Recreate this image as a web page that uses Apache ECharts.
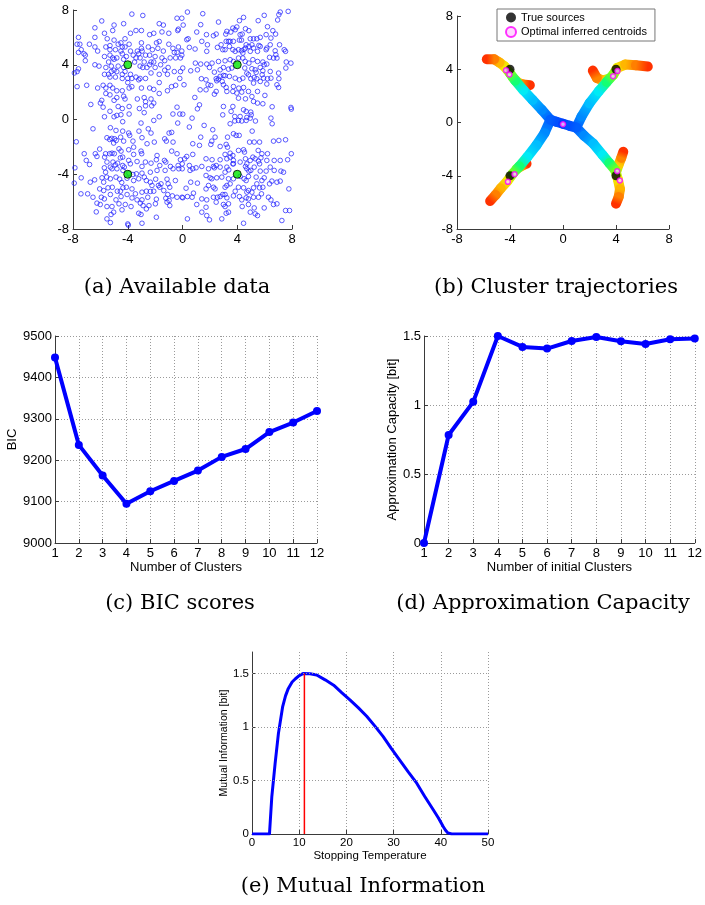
<!DOCTYPE html>
<html>
<head>
<meta charset="utf-8">
<script src="https://cdn.jsdelivr.net/npm/echarts@6/dist/echarts.min.js"></script>
<style>
html,body{margin:0;padding:0;background:#fff}
#chart{width:705px;height:905px}
</style>
</head>
<body>
<div id="chart"></div>
<script>
// ---------- (a) available data: 2-D samples ----------
const samplesUpperLeft = [[-3.7,7.7],[-2.9,7.6],[-5.9,7.2],[-0.4,7.4],[-0.05,7.4],[-5.0,6.9],[-4.3,7.0],[-1.7,7.0],[-1.4,6.9],[-7.6,6.0],[-6.4,6.7],[-5.7,6.3],[-5.1,6.5],[-3.4,6.5],[-3.0,6.5],[-3.8,6.3],[-2.1,6.3],[-2.4,6.2],[-1.5,6.4],[-1.0,6.3],[-0.3,6.6],[-0.35,6.5],[-5.5,5.9],[-5.0,5.8],[-4.2,5.9],[-4.5,5.6],[-6.4,6.0],[-7.7,5.5],[-7.5,5.5],[-6.8,5.5],[-6.4,5.3],[-5.6,5.3],[-5.3,5.4],[-4.7,5.5],[-4.4,5.3],[-4.2,5.3],[-4.9,5.1],[-5.3,5.1],[-3.9,5.5],[-3.0,5.6],[-1.9,5.6],[-1.7,5.7],[-1.0,5.5],[-2.2,5.1],[-2.5,5.3],[-1.8,5.2],[-1.4,5.0],[-0.7,5.2],[-0.3,5.3],[-0.05,5.0],[-0.6,4.9],[-0.4,4.9],[-7.4,5.1],[-7.2,4.8],[-7.1,4.7],[-7.1,4.3],[-6.2,5.0],[-7.6,4.9],[-4.5,5.0],[-4.4,4.8],[-3.8,5.0],[-3.3,5.0],[-3.2,4.8],[-3.0,5.2],[-2.95,5.0],[-3.6,4.7],[-2.7,4.7],[-2.4,4.7],[-2.0,4.6],[-4.1,4.6],[-4.8,4.5],[-5.0,4.4],[-5.1,4.5],[-5.4,4.2],[-5.7,4.6],[-5.3,4.7],[-4.3,4.4],[-3.4,4.5],[-3.1,4.5],[-3.5,4.2],[-2.8,4.2],[-2.3,4.2],[-2.1,4.2],[-1.5,4.5],[-1.3,4.3],[-0.9,4.5],[-0.5,4.5],[-0.15,4.5],[-0.05,4.7],[-6.4,4.0],[-6.1,3.9],[-5.6,3.8],[-5.2,3.9],[-5.0,3.6],[-4.7,3.9],[-4.3,3.8],[-3.1,3.9],[-2.9,3.8],[-2.6,3.8],[-2.4,4.0],[-2.0,3.8],[-1.6,4.0],[-1.3,3.6],[-1.05,3.8],[-7.9,3.4],[-7.6,3.7],[-7.7,3.5],[-5.7,3.3],[-5.4,3.3],[-5.2,3.5],[-4.8,3.5],[-4.4,3.3],[-4.2,3.5],[-3.8,3.3],[-3.7,3.0],[-3.4,3.1],[-2.7,3.0],[-2.3,3.4],[-1.7,3.3],[-1.1,3.3],[-0.6,3.5],[-0.15,3.5],[-5.3,3.1],[-4.9,3.1],[-4.4,3.0],[-4.0,3.0],[-3.2,2.9],[-3.1,3.0],[-7.7,2.4],[-7.0,2.5],[-6.2,2.3],[-5.8,2.5],[-5.6,2.3],[-5.3,2.5],[-5.1,2.3],[-4.8,2.1],[-4.4,2.1],[-4.0,2.7],[-3.9,2.3],[-3.7,2.4],[-3.0,2.3],[-2.4,2.3],[-2.1,2.2],[-1.7,2.7],[-1.1,2.1],[-0.8,2.4],[-0.5,2.5],[-0.2,3.0],[-5.6,1.9],[-5.3,1.8],[-4.8,1.6],[-4.3,1.7],[-4.2,1.5],[-3.3,1.5],[-2.8,1.6],[-2.7,1.3],[-2.3,1.5],[-2.1,1.2],[-1.7,1.9],[-5.9,1.4],[-6.0,1.2],[-6.7,1.1],[-5.8,0.9],[-5.0,1.4],[-4.7,0.95],[-4.4,0.8],[-3.9,0.95],[-3.15,0.8],[-2.7,1.0],[-2.25,1.0],[-2.8,0.5],[-0.4,0.9],[-5.7,0.2],[-5.3,0.6],[-5.0,0.2],[-4.8,0.3],[-4.5,0.35],[-3.9,0.4],[-1.7,0.2],[-0.7,0.4],[-0.2,0.4]];
const samplesUpperRight = [[0.36,7.85],[1.48,7.73],[7.14,7.85],[7.04,7.66],[7.72,7.9],[0.05,6.9],[1.33,6.93],[2.63,7.12],[4.16,7.22],[4.46,7.46],[5.53,7.22],[5.97,7.61],[6.95,7.27],[3.68,6.68],[3.85,6.56],[3.97,6.76],[4.6,6.63],[4.85,6.49],[6.21,6.78],[6.6,6.49],[1.04,6.39],[1.75,6.2],[2.26,6.12],[2.46,6.24],[3.16,6.24],[3.24,6.44],[3.53,6.39],[4.21,6.2],[4.36,6.24],[4.95,5.9],[5.19,5.9],[5.43,5.9],[5.68,6.0],[6.11,6.2],[6.46,5.95],[6.8,6.24],[0.41,5.9],[0.31,5.83],[1.41,5.71],[1.82,5.46],[2.82,5.46],[3.19,5.71],[3.36,5.71],[3.48,5.71],[3.72,5.71],[4.16,5.8],[4.31,5.8],[4.65,5.46],[4.85,5.34],[5.07,5.46],[5.19,5.22],[5.58,5.41],[5.68,5.34],[6.16,5.22],[6.41,5.46],[7.09,5.46],[7.43,5.1],[7.53,4.98],[0.5,5.27],[0.92,5.15],[1.77,4.98],[2.55,5.27],[2.94,5.1],[3.11,5.1],[3.43,5.34],[3.68,5.1],[3.85,4.98],[4.09,5.1],[4.31,5.02],[4.41,4.85],[4.5,5.12],[4.6,5.22],[4.95,4.98],[5.48,4.98],[6.11,5.1],[6.77,5.02],[6.82,4.73],[6.9,4.49],[6.36,4.54],[6.65,4.49],[0.94,4.12],[1.33,4.05],[1.77,4.05],[2.16,4.12],[2.63,4.24],[3.11,4.29],[3.48,4.37],[3.72,4.24],[4.09,4.49],[4.41,4.49],[4.58,4.24],[4.85,4.12],[5.14,4.37],[5.48,4.24],[5.87,4.2],[5.97,4.0],[6.16,4.05],[7.58,4.2],[7.92,4.12],[0.02,3.76],[0.6,3.56],[1.09,3.63],[1.97,3.8],[2.33,3.46],[2.75,3.63],[2.99,3.8],[3.36,3.68],[3.6,3.76],[4.55,3.76],[4.7,3.39],[4.82,3.27],[5.07,3.71],[5.31,3.63],[5.68,3.8],[5.87,3.56],[5.38,3.44],[5.82,3.27],[6.41,3.51],[7.02,3.39],[7.55,3.76],[1.38,2.98],[1.72,2.9],[2.46,2.98],[2.63,2.95],[2.75,3.15],[2.99,3.22],[3.11,3.2],[2.5,2.83],[2.9,2.78],[3.43,3.15],[3.85,3.02],[4.16,2.9],[4.41,3.02],[4.99,2.98],[5.24,3.07],[5.43,2.98],[5.92,3.02],[6.21,2.98],[6.46,3.02],[7.04,2.98],[1.87,2.54],[2.07,2.49],[2.99,2.54],[3.19,2.34],[3.72,2.41],[4.11,2.29],[4.46,2.34],[5.19,2.66],[5.68,2.78],[6.16,2.59],[6.9,2.54],[7.02,2.34],[0.11,2.54],[1.29,2.17],[1.72,2.17],[2.46,2.05],[2.33,1.85],[3.24,2.05],[3.68,2.05],[3.97,1.93],[4.33,2.0],[4.82,2.05],[5.07,1.68],[5.48,2.05],[6.02,1.76],[0.9,1.61],[4.09,1.56],[4.6,1.51],[5.19,1.32],[5.48,1.2],[5.87,1.15],[6.55,0.93],[1.24,1.07],[1.09,0.78],[2.99,0.95],[3.68,0.95],[4.46,0.71],[4.65,0.59],[4.99,0.54],[3.55,0.59],[2.94,0.34],[3.82,0.22],[4.21,0.22],[4.7,0.15],[4.95,0.1],[0.02,0.39],[0.7,0.1],[6.46,0.1],[7.95,0.76],[7.92,0.88],[5.02,0.34]];
const samplesLowerLeft = [[-4.37,-0.16],[-3.03,-0.26],[-2.1,-0.07],[-0.35,-0.26],[-6.54,-0.68],[-5.27,-0.6],[-4.86,-0.8],[-4.37,-0.85],[-3.93,-0.99],[-3.86,-1.16],[-3.18,-0.85],[-2.5,-0.68],[-2.3,-0.99],[-7.76,-1.63],[-5.52,-1.33],[-5.32,-1.46],[-5.17,-1.38],[-4.96,-1.41],[-4.84,-1.53],[-4.52,-1.29],[-5.03,-1.72],[-4.3,-1.58],[-3.62,-1.58],[-2.96,-1.33],[-2.59,-1.77],[-2.06,-1.65],[-1.3,-1.41],[-1.18,-1.58],[-0.98,-0.99],[-0.79,-0.94],[-0.69,-1.65],[-7.18,-2.5],[-6.37,-2.5],[-6.25,-2.7],[-6.05,-2.16],[-5.62,-2.5],[-5.69,-2.75],[-5.32,-2.5],[-5.15,-2.46],[-4.98,-2.5],[-4.64,-2.14],[-4.49,-2.31],[-3.93,-2.21],[-3.57,-2.02],[-3.03,-2.31],[-2.98,-2.5],[-3.57,-2.55],[-3.93,-2.99],[-4.54,-2.8],[-4.37,-2.75],[-5.52,-3.11],[-5.08,-3.11],[-4.91,-3.31],[-4.74,-3.19],[-4.37,-3.36],[-4.25,-3.48],[-3.81,-3.24],[-3.32,-3.07],[-2.96,-3.43],[-2.71,-3.11],[-2.3,-3.19],[-1.91,-2.94],[-1.86,-2.63],[-1.66,-3.36],[-1.32,-2.99],[-1.22,-3.11],[-0.79,-2.31],[-0.4,-2.5],[-0.15,-2.94],[-0.32,-3.36],[-0.02,-3.24],[-0.27,-3.6],[-7.86,-3.53],[-7.03,-2.99],[-6.79,-3.29],[-5.71,-3.53],[-5.62,-3.85],[-5.27,-3.48],[-5.15,-3.6],[-4.79,-3.6],[-4.35,-3.72],[-3.91,-3.92],[-3.62,-4.02],[-3.37,-3.97],[-2.96,-3.92],[-2.35,-3.85],[-1.86,-3.72],[-1.27,-3.72],[-0.88,-3.43],[-0.69,-3.6],[-0.02,-3.6],[-7.91,-4.65],[-7.4,-4.26],[-6.74,-4.58],[-6.42,-4.41],[-5.88,-4.26],[-5.76,-4.58],[-5.54,-4.21],[-5.27,-4.33],[-4.86,-4.21],[-4.59,-4.36],[-4.44,-4.6],[-4.05,-4.29],[-3.57,-4.46],[-3.2,-4.33],[-2.79,-4.21],[-2.64,-4.46],[-2.35,-4.58],[-2.23,-4.82],[-1.96,-4.36],[-1.76,-4.82],[-1.57,-4.7],[-1.13,-4.36],[-1.05,-4.7],[-0.93,-4.95],[-0.52,-4.46],[-6.05,-5.07],[-5.76,-5.19],[-5.44,-4.99],[-5.13,-4.95],[-4.76,-5.24],[-4.54,-5.24],[-4.35,-4.99],[-4.1,-4.95],[-3.69,-5.07],[-3.44,-5.43],[-2.96,-5.31],[-2.64,-5.24],[-2.35,-5.26],[-2.1,-5.24],[-1.66,-4.95],[-1.37,-5.19],[-1.08,-5.48],[-0.4,-5.68],[-0.03,-5.68],[-7.42,-5.43],[-6.93,-5.43],[-6.54,-5.68],[-5.93,-5.68],[-5.71,-5.8],[-5.27,-5.48],[-4.86,-5.87],[-4.49,-5.63],[-4.05,-5.48],[-3.69,-5.73],[-3.32,-5.87],[-2.96,-5.87],[-2.54,-5.68],[-1.91,-5.82],[-1.22,-5.75],[-0.98,-5.92],[-0.74,-5.58],[-6.25,-6.11],[-6.01,-6.21],[-5.52,-6.36],[-5.15,-6.36],[-4.64,-6.16],[-4.18,-6.21],[-3.76,-6.36],[-3.08,-6.11],[-2.88,-6.29],[-2.64,-6.53],[-2.45,-6.29],[-1.98,-6.16],[-1.13,-6.04],[-0.93,-6.29],[-6.3,-6.75],[-5.22,-6.94],[-5.03,-6.77],[-4.42,-6.6],[-3.2,-6.85],[-3.03,-6.94],[-5.52,-7.26],[-5.27,-7.53],[-4.0,-7.63],[-3.96,-7.72],[-2.96,-7.58],[-1.91,-7.14]];
const samplesLowerRight = [[3.48,-0.31],[3.82,-0.11],[4.09,-0.07],[4.33,-0.11],[4.65,-0.07],[5.33,-0.11],[6.55,-0.31],[1.58,-0.43],[2.21,-0.75],[0.5,-0.55],[3.72,-1.04],[3.92,-1.16],[4.14,-1.16],[5.09,-0.85],[3.29,-1.29],[2.38,-1.29],[1.33,-1.29],[0.75,-1.77],[1.24,-1.89],[2.14,-1.58],[2.07,-1.82],[2.75,-1.97],[3.19,-1.82],[3.29,-2.02],[3.48,-2.46],[3.68,-2.63],[4.09,-2.26],[4.46,-2.21],[4.53,-2.38],[4.9,-1.65],[5.24,-1.65],[5.63,-1.65],[5.53,-2.26],[5.8,-2.5],[6.21,-2.5],[6.65,-1.58],[7.04,-1.53],[7.53,-1.48],[7.95,-2.5],[0.31,-2.7],[0.16,-2.87],[0.75,-2.55],[1.72,-2.87],[2.16,-2.94],[2.75,-2.94],[3.11,-2.55],[3.24,-2.87],[3.48,-2.75],[3.72,-2.99],[3.72,-3.24],[4.21,-3.11],[4.6,-2.87],[4.7,-3.24],[4.95,-2.99],[5.14,-2.75],[5.31,-2.87],[5.55,-3.04],[5.73,-2.8],[5.63,-3.24],[6.16,-2.99],[6.7,-2.99],[7.14,-2.99],[7.68,-2.94],[0.5,-3.36],[0.75,-3.6],[0.55,-3.72],[0.99,-3.53],[1.41,-3.43],[1.9,-3.6],[2.26,-3.43],[2.33,-3.53],[2.46,-3.36],[2.75,-3.48],[3.24,-3.48],[3.38,-3.68],[3.68,-3.24],[4.6,-3.43],[4.7,-3.6],[4.85,-3.77],[4.99,-3.72],[5.24,-3.48],[5.68,-3.77],[6.11,-3.77],[6.41,-3.48],[6.7,-3.72],[7.19,-3.77],[7.38,-3.85],[1.72,-4.09],[2.02,-4.26],[2.14,-4.33],[2.5,-4.26],[2.87,-4.21],[3.11,-3.85],[3.36,-4.33],[3.72,-4.33],[4.21,-4.16],[4.5,-4.33],[4.65,-4.46],[4.82,-4.16],[5.38,-4.21],[5.8,-4.46],[5.97,-4.26],[5.43,-4.7],[6.36,-4.7],[6.53,-4.5],[6.9,-4.58],[7.14,-4.5],[7.77,-5.07],[0.6,-4.58],[0.26,-5.02],[1.09,-4.65],[1.9,-4.82],[1.72,-5.07],[2.26,-4.95],[2.38,-5.07],[3.11,-4.95],[3.24,-4.82],[3.48,-4.7],[3.85,-5.24],[4.09,-4.95],[4.46,-4.99],[4.7,-5.31],[4.82,-5.19],[5.07,-5.31],[5.19,-4.99],[5.63,-4.99],[5.87,-4.95],[0.8,-5.38],[0.7,-5.68],[0.02,-5.72],[0.36,-5.63],[1.41,-5.8],[1.77,-5.87],[2.26,-5.68],[2.55,-5.68],[2.75,-5.63],[2.94,-5.48],[3.11,-5.48],[3.24,-5.72],[3.72,-5.58],[4.16,-5.63],[4.65,-5.72],[4.33,-5.87],[4.82,-5.8],[5.19,-5.68],[5.55,-5.68],[5.77,-5.43],[6.28,-5.68],[6.46,-5.87],[6.9,-6.16],[6.65,-6.21],[1.04,-6.21],[1.72,-6.41],[2.46,-6.04],[2.99,-6.21],[3.11,-6.36],[3.36,-6.16],[4.36,-6.36],[4.82,-6.21],[5.24,-6.46],[5.97,-6.46],[7.53,-6.65],[7.82,-6.65],[1.41,-6.77],[3.19,-6.85],[3.36,-6.77],[4.95,-6.77],[5.31,-6.89],[5.48,-7.02],[1.77,-7.02],[0.36,-7.26],[1.97,-7.33],[2.87,-7.26],[4.46,-7.58],[7.26,-7.38]];
const trueSources = [[-4,4],[4,4],[-4,-4],[4,-4]];

// ---------- (b) cluster trajectories: [x, y, annealing progress 0..1] ----------
const trunkLeft = [[0,-0.1,0],[-0.5,0.05,0.05],[-0.95,0.2,0.1]];
const trunkRight = [[0,-0.1,0],[0.5,-0.25,0.05],[1.0,-0.38,0.1]];
const armUpLeft = [[-0.95,0.2,0.1],[-1.6,0.95,0.2],[-2.3,1.7,0.3],[-3.0,2.45,0.4],[-3.6,3.15,0.5],[-4.0,3.7,0.58]];
const armUpRight = [[1.0,-0.38,0.1],[1.4,0.45,0.2],[2.0,1.45,0.3],[2.7,2.35,0.4],[3.3,3.05,0.5],[3.8,3.6,0.58]];
const armDownLeft = [[-0.95,0.2,0.1],[-1.4,-0.8,0.2],[-2.0,-1.7,0.3],[-2.7,-2.6,0.4],[-3.3,-3.3,0.5],[-3.8,-3.85,0.58]];
const armDownRight = [[1.0,-0.38,0.1],[1.6,-1.0,0.2],[2.3,-1.6,0.3],[3.0,-2.45,0.4],[3.5,-3.05,0.5],[3.95,-3.6,0.58]];
const tailUpLeftOuter = [[-4.0,3.7,0.58],[-4.4,4.2,0.66],[-4.8,4.5,0.76],[-5.2,4.75,0.86],[-5.75,4.75,1.0]];
const tailUpLeftInner = [[-3.8,3.4,0.6],[-3.4,3.0,0.72],[-3.0,2.85,0.85],[-2.5,2.8,1.0]];
const tailUpRightOuter = [[3.8,3.6,0.58],[4.1,4.1,0.66],[4.7,4.35,0.76],[5.5,4.3,0.86],[6.4,4.2,1.0]];
const tailUpRightInner = [[3.5,3.3,0.6],[3.0,3.15,0.72],[2.55,3.35,0.85],[2.25,3.9,1.0]];
const tailDownLeftOuter = [[-3.8,-3.85,0.58],[-4.2,-4.4,0.66],[-4.7,-4.95,0.76],[-5.1,-5.45,0.86],[-5.5,-5.9,1.0]];
const tailDownLeftInner = [[-3.5,-3.5,0.6],[-3.1,-3.25,0.78],[-2.75,-3.1,1.0]];
const tailDownRightOuter = [[3.95,-3.6,0.58],[4.15,-4.3,0.66],[4.3,-5.0,0.76],[4.2,-5.6,0.86],[4.0,-6.1,1.0]];
const tailDownRightInner = [[4.05,-3.6,0.6],[4.2,-3.15,0.72],[4.4,-2.65,0.85],[4.55,-2.2,1.0]];
const inferredCentroids = [[-4.3,3.93],[-4.04,3.61],[4.11,3.86],[3.78,3.48],[-3.66,-3.88],[-4.16,-4.46],[4.09,-3.66],[4.29,-4.36],[0,-0.13]];

// ---------- (c) BIC, (d) approximation capacity ----------
const clusterCounts = [1,2,3,4,5,6,7,8,9,10,11,12];
const bicScores = [9448,9237,9163,9095,9125,9150,9175,9208,9227,9268,9291,9319];
const approxCapacity = [0,0.783,1.023,1.5,1.421,1.409,1.464,1.493,1.462,1.442,1.476,1.481];

// ---------- (e) mutual information vs stopping temperature ----------
const stoppingTemperature = [0,3.7,4.2,4.9,5.6,6.5,7.1,7.7,8.5,9.2,10.0,10.9,11.2,12.3,13.7,15.5,17.3,19.0,20.8,22.5,24.3,26.0,27.8,29.5,31.3,33.1,34.9,36.6,38.4,39.5,40.5,41.0,41.5,42.3,50];
const mutualInformation = [0,0,0.35,0.66,0.94,1.19,1.29,1.36,1.42,1.45,1.48,1.5,1.5,1.497,1.485,1.44,1.39,1.32,1.25,1.18,1.1,1.01,0.91,0.8,0.69,0.58,0.475,0.35,0.227,0.15,0.07,0.035,0.01,0,0];
const optimalTemperature = 11.1;
const optimalInformation = 1.5;

const captions = ['(a) Available data','(b) Cluster trajectories','(c) BIC scores','(d) Approximation Capacity','(e) Mutual Information'];

// ---------- helpers ----------
const SANS = '"Liberation Sans", Arial, sans-serif';
const SERIF = '"DejaVu Serif", serif';

const jetStops = [
  [0.00,[0,64,255]],[0.15,[0,110,255]],[0.30,[0,190,255]],[0.40,[0,235,245]],
  [0.47,[0,255,170]],[0.53,[40,255,60]],[0.60,[170,255,0]],[0.67,[255,230,0]],[0.80,[255,160,0]],[1.00,[255,50,0]]
];
function jet(t){
  for(let i=1;i<jetStops.length;i++){
    if(t<=jetStops[i][0]){
      const a=jetStops[i-1], b=jetStops[i];
      const f=(t-a[0])/(b[0]-a[0]);
      const c=a[1].map((v,k)=>Math.round(v+(b[1][k]-v)*f));
      return 'rgb('+c.join(',')+')';
    }
  }
  return 'rgb(255,50,0)';
}
function segmentsOf(branch){
  const out=[];
  for(let i=1;i<branch.length;i++){
    const p=branch[i-1], q=branch[i];
    out.push([p[0],p[1],q[0],q[1],p[2],q[2]]);
  }
  return out;
}
// tails first so the arms lie on top of them
const trajectorySegments = [].concat(
  segmentsOf(tailUpLeftInner), segmentsOf(tailUpRightInner), segmentsOf(tailDownLeftInner), segmentsOf(tailDownRightInner),
  segmentsOf(tailUpLeftOuter), segmentsOf(tailUpRightOuter), segmentsOf(tailDownLeftOuter), segmentsOf(tailDownRightOuter),
  segmentsOf(armUpLeft), segmentsOf(armUpRight), segmentsOf(armDownLeft), segmentsOf(armDownRight),
  segmentsOf(trunkLeft), segmentsOf(trunkRight)
);

const AXIS_COLOR = '#3a3a3a';
function valueAxis(gridIndex, min, max, interval, opts){
  opts = opts || {};
  const fs = opts.fontSize || 13;
  return Object.assign({
    type:'value', gridIndex, min, max, interval,
    axisLine:{show:true, onZero:false, lineStyle:{color:AXIS_COLOR, width:1}},
    axisTick:{show:true, inside:true, length:4, lineStyle:{color:AXIS_COLOR}},
    axisLabel:{color:'#000', fontFamily:SANS, fontSize:fs, margin:opts.margin||4,
               showMaxLabel:opts.hideMax ? false : null, formatter:v => String(v)},
    splitLine:{show:!!opts.grid, lineStyle:{type:[1,2], color:'#9a9a9a', width:1}},
    nameTextStyle:{color:'#000', fontFamily:SANS, fontSize:opts.nameSize||13}
  }, opts.extra||{});
}

const allSamples = [].concat(samplesUpperLeft, samplesUpperRight, samplesLowerLeft, samplesLowerRight);
const captionSpots = [[177,288],[556,288],[180,604],[543,604],[363,887]];

const chart = echarts.init(document.getElementById('chart'), null, {renderer:'canvas'});
chart.setOption({
  backgroundColor:'#fff',
  animation:false,
  grid:[
    {left:73, top:10, width:219, height:219},
    {left:457, top:16, width:212, height:213},
    {left:55, top:336, width:262, height:207},
    {left:424, top:336, width:271, height:207},
    {left:252, top:652, width:236, height:182}
  ],
  xAxis:[
    valueAxis(0,-8,8,4),
    valueAxis(1,-8,8,4),
    valueAxis(2,1,12,1,{grid:true, extra:{name:'Number of Clusters', nameLocation:'middle', nameGap:18}}),
    valueAxis(3,1,12,1,{grid:true, extra:{name:'Number of initial Clusters', nameLocation:'middle', nameGap:18}}),
    valueAxis(4,0,50,10,{grid:true, fontSize:11.5, nameSize:11.5, margin:3, extra:{name:'Stopping Temperature', nameLocation:'middle', nameGap:16}})
  ],
  yAxis:[
    valueAxis(0,-8,8,4),
    valueAxis(1,-8,8,4),
    valueAxis(2,9000,9500,100,{grid:true, margin:3, extra:{name:'BIC', nameLocation:'middle', nameGap:34}}),
    valueAxis(3,0,1.5,0.5,{grid:true, margin:3, extra:{name:'Approximation Capacity [bit]', nameLocation:'middle', nameGap:24}}),
    valueAxis(4,0,1.7,0.5,{fontSize:11.5, nameSize:10.5, margin:3, hideMax:true, extra:{name:'Mutual Information [bit]', nameLocation:'middle', nameGap:22}})
  ],
  legend:{
    left:497, top:9, orient:'vertical', selectedMode:false,
    data:['True sources','Optimal inferred centroids'],
    backgroundColor:'#fff', borderColor:'#777', borderWidth:1, borderRadius:0,
    padding:[3,8,3,8], itemGap:3, itemWidth:10, itemHeight:10,
    textStyle:{fontFamily:SANS, fontSize:11, color:'#000'}
  },
  graphic: captions.map((text,i)=>({
    type:'text', x:captionSpots[i][0], y:captionSpots[i][1], silent:true,
    style:{text, fill:'#000', font:'21px '+SERIF, fontSize:21, fontFamily:SERIF,
           textAlign:'center', textVerticalAlign:'middle', align:'center', verticalAlign:'middle'}
  })),
  series:[
    {type:'scatter', xAxisIndex:0, yAxisIndex:0, data:allSamples, symbol:'circle', symbolSize:4.6,
     itemStyle:{color:'rgba(0,0,255,0)', borderColor:'#1c1cff', borderWidth:0.9}, silent:true},
    {type:'scatter', xAxisIndex:0, yAxisIndex:0, data:trueSources, symbol:'circle', symbolSize:8,
     itemStyle:{color:'#00e600', borderColor:'#000', borderWidth:1}, silent:true, z:3},
    {type:'custom', xAxisIndex:1, yAxisIndex:1, data:trajectorySegments, encode:{x:[0,2], y:[1,3]}, silent:true,
     renderItem:function(params, api){
       const p1 = api.coord([api.value(0), api.value(1)]);
       const p2 = api.coord([api.value(2), api.value(3)]);
       return {type:'line', shape:{x1:p1[0], y1:p1[1], x2:p2[0], y2:p2[1]},
         style:{stroke:new echarts.graphic.LinearGradient(p1[0],p1[1],p2[0],p2[1],
           [{offset:0,color:jet(api.value(4))},{offset:1,color:jet(api.value(5))}], true),
           lineWidth:10, lineCap:'round', fill:null}};
     }},
    {name:'True sources', type:'scatter', xAxisIndex:1, yAxisIndex:1, data:trueSources, symbol:'circle', symbolSize:9,
     itemStyle:{color:'#000'}, silent:true, z:4},
    {name:'Optimal inferred centroids', type:'scatter', xAxisIndex:1, yAxisIndex:1, data:inferredCentroids, symbol:'circle', symbolSize:5,
     itemStyle:{color:'#ffd0ff', borderColor:'#ff00ff', borderWidth:1.5}, silent:true, z:5},
    {type:'line', xAxisIndex:2, yAxisIndex:2, data:clusterCounts.map((c,i)=>[c,bicScores[i]]),
     symbol:'circle', symbolSize:8, showAllSymbol:true,
     lineStyle:{color:'#0000ff', width:4}, itemStyle:{color:'#0000ff'}, silent:true},
    {type:'line', xAxisIndex:3, yAxisIndex:3, data:clusterCounts.map((c,i)=>[c,approxCapacity[i]]),
     symbol:'circle', symbolSize:8, showAllSymbol:true,
     lineStyle:{color:'#0000ff', width:4}, itemStyle:{color:'#0000ff'}, silent:true},
    {type:'line', xAxisIndex:4, yAxisIndex:4, data:stoppingTemperature.map((t,i)=>[t,mutualInformation[i]]),
     symbol:'none', smooth:false, lineStyle:{color:'#0000ff', width:3, join:'round'}, silent:true,
     markLine:{silent:true, symbol:'none', label:{show:false},
       lineStyle:{type:[1,2], color:'#9a9a9a', width:1},
       data:[{yAxis:0.5},{yAxis:1},{yAxis:1.5}]}},
    {type:'line', xAxisIndex:4, yAxisIndex:4, data:[[optimalTemperature,0],[optimalTemperature,optimalInformation]],
     symbol:'none', lineStyle:{color:'#ff0000', width:1.5}, silent:true, z:3}
  ]
});
</script>
</body>
</html>
